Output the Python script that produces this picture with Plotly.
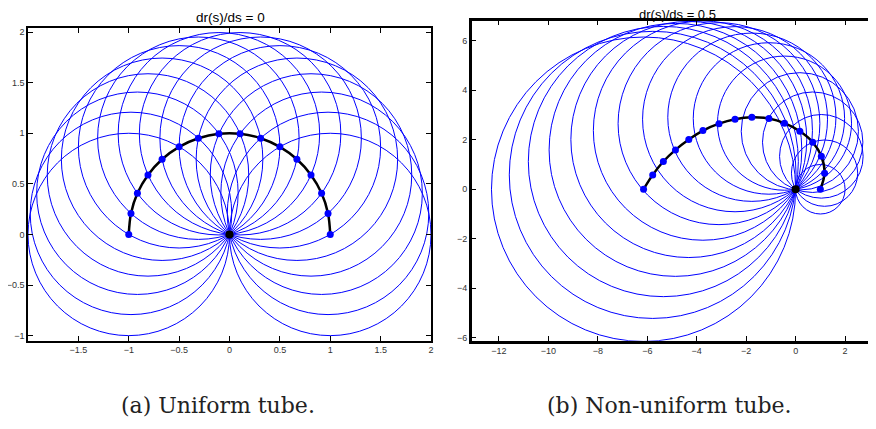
import plotly.graph_objects as go

# ---- data: left panel (uniform tube, dr/ds = 0) ----
left_cx = [-1.0, -0.978, -0.914, -0.809, -0.669, -0.5, -0.309, -0.105,
           0.105, 0.309, 0.5, 0.669, 0.809, 0.914, 0.978, 1.0]
left_cy = [0.0, 0.208, 0.407, 0.588, 0.743, 0.866, 0.951, 0.995,
           0.995, 0.951, 0.866, 0.743, 0.588, 0.407, 0.208, 0.0]
left_r = [1.0] * 16

# ---- data: right panel (non-uniform tube, dr/ds = 0.5) ----
right_cx = [-6.15, -5.78, -5.35, -4.86, -4.32, -3.75, -3.10, -2.45,
            -1.77, -1.08, -0.45, 0.17, 0.69, 1.04, 1.17, 1.0]
right_cy = [0.0, 0.58, 1.12, 1.59, 2.01, 2.37, 2.65, 2.83,
            2.91, 2.86, 2.67, 2.34, 1.90, 1.33, 0.65, 0.0]
right_r = [6.15, 5.80, 5.46, 5.11, 4.77, 4.43, 4.08, 3.74,
           3.40, 3.06, 2.71, 2.37, 2.03, 1.69, 1.34, 1.0]

origin_x = [0]
origin_y = [0]

left_xticks = [-1.5, -1, -0.5, 0, 0.5, 1, 1.5, 2]
left_yticks = [-1, -0.5, 0, 0.5, 1, 1.5, 2]
right_xticks = [-12, -10, -8, -6, -4, -2, 0, 2]
right_yticks = [-6, -4, -2, 0, 2, 4, 6]

titles = ["dr(s)/ds = 0", "dr(s)/ds = 0.5"]
captions = ["(a) Uniform tube.", "(b) Non-uniform tube."]

OFF = 8  # page body margin in the browser
W, H = 876 - OFF, 415


def PX(sx):
    return (sx - OFF) / W


def PY(sy):
    return 1 - (sy - OFF) / H


BLUE = "rgb(0,0,255)"

fig = go.Figure()

shapes = []
for cx, cy, r in zip(left_cx, left_cy, left_r):
    shapes.append(dict(type="circle", xref="x", yref="y",
                       x0=cx - r, x1=cx + r, y0=cy - r, y1=cy + r,
                       line=dict(color=BLUE, width=1), layer="below"))
for cx, cy, r in zip(right_cx, right_cy, right_r):
    shapes.append(dict(type="circle", xref="x2", yref="y2",
                       x0=cx - r, x1=cx + r, y0=cy - r, y1=cy + r,
                       line=dict(color=BLUE, width=1), layer="below"))

for xs, ys, xa, ya in [(left_cx, left_cy, "x", "y"), (right_cx, right_cy, "x2", "y2")]:
    fig.add_trace(go.Scatter(x=xs, y=ys, xaxis=xa, yaxis=ya, mode="lines",
                             line=dict(color="black", width=2.5, shape="spline"),
                             hoverinfo="skip", showlegend=False))
    fig.add_trace(go.Scatter(x=xs, y=ys, xaxis=xa, yaxis=ya, mode="markers",
                             marker=dict(color=BLUE, size=7),
                             showlegend=False))
    fig.add_trace(go.Scatter(x=origin_x, y=origin_y, xaxis=xa, yaxis=ya, mode="markers",
                             marker=dict(color="black", size=8),
                             showlegend=False))

tickfont = dict(family="Liberation Sans, Arial, sans-serif", size=9, color="#333")
common = dict(showgrid=False, zeroline=False, ticks="inside", ticklen=5, automargin=False,
              tickcolor="black", tickfont=tickfont, showline=True, linecolor="black")

ann = dict(xref="paper", yref="paper", showarrow=False, xanchor="center", yanchor="middle")

fig.update_layout(
    width=W, height=H,
    margin=dict(l=0, r=0, t=0, b=0, autoexpand=False),
    plot_bgcolor="white", paper_bgcolor="white",
    shapes=shapes,
    xaxis=dict(domain=[PX(28), PX(431)], range=[-2.0, 2.0], tickvals=left_xticks,
               anchor="y", mirror="ticks", linewidth=1.5, **common),
    yaxis=dict(domain=[PY(340.7), PY(28)], range=[-1.05, 2.04],
               tickvals=left_yticks, anchor="x", mirror="ticks", linewidth=1.5, **common),
    xaxis2=dict(domain=[PX(471.7), 1.0], range=[-13.10, 3.25], tickvals=right_xticks,
                anchor="y2", mirror="ticks", linewidth=2.5, **common),
    yaxis2=dict(domain=[PY(340.7), PY(20.7)], range=[-6.12, 6.81],
                tickvals=right_yticks, anchor="x2", mirror=False, linewidth=2.5, **common),
    annotations=[
        dict(text=titles[0], x=PX(230), y=PY(17),
             font=dict(family="Liberation Sans, Arial", size=13.5, color="black"), **ann),
        dict(text=titles[1], x=PX(677), y=PY(14.5),
             font=dict(family="Liberation Sans, Arial", size=13, color="black"), **ann),
        dict(text=captions[0], x=PX(218), y=PY(405),
             font=dict(family="DejaVu Serif", size=22, color="#222"), **ann),
        dict(text=captions[1], x=PX(669), y=PY(405),
             font=dict(family="DejaVu Serif", size=22, color="#222"), **ann),
    ],
)

fig.write_html("out.html")
